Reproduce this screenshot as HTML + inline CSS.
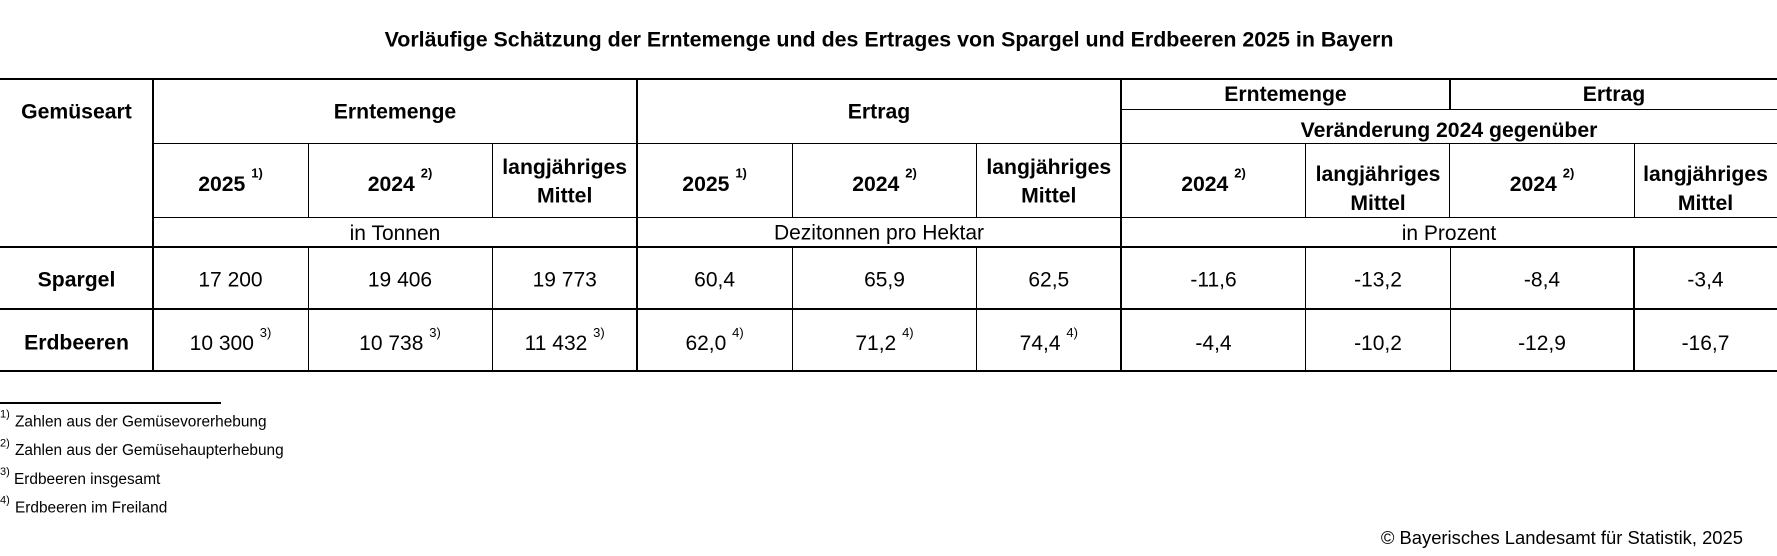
<!DOCTYPE html>
<html>
<head>
<meta charset="utf-8">
<style>
html,body{margin:0;padding:0;background:#fff;width:1777px;height:556px;overflow:hidden}
svg{display:block}
text{font-family:"Liberation Sans",Arial,sans-serif;fill:#000}
.t{font-size:21.4px;font-weight:bold}
.h{font-size:21.2px;font-weight:bold;text-anchor:middle}
.d{font-size:21px;text-anchor:middle}
.s{font-size:13px}
.fn{font-size:15.4px}
.fs{font-size:11px}
</style>
</head>
<body>
<svg width="1777" height="556" viewBox="0 0 1777 556" xmlns="http://www.w3.org/2000/svg">
<rect x="0" y="0" width="1777" height="556" fill="#fff"/>
<text class="t" x="889" y="46.5" text-anchor="middle">Vorläufige Schätzung der Erntemenge und des Ertrages von Spargel und Erdbeeren 2025 in Bayern</text>

<g fill="#000" shape-rendering="crispEdges">
<rect x="0" y="78" width="1777" height="2"/>
<rect x="1121" y="109" width="656" height="1"/>
<rect x="153" y="143" width="1624" height="1"/>
<rect x="153" y="217" width="1624" height="1"/>
<rect x="0" y="246" width="1777" height="2"/>
<rect x="0" y="308" width="1777" height="2"/>
<rect x="0" y="370" width="1777" height="2"/>
<rect x="152" y="78" width="2" height="294"/>
<rect x="636" y="78" width="2" height="294"/>
<rect x="1120" y="78" width="2" height="294"/>
<rect x="308" y="143" width="1" height="75"/>
<rect x="308" y="246" width="1" height="126"/>
<rect x="492" y="143" width="1" height="75"/>
<rect x="492" y="246" width="1" height="126"/>
<rect x="792" y="143" width="1" height="75"/>
<rect x="792" y="246" width="1" height="126"/>
<rect x="976" y="143" width="1" height="75"/>
<rect x="976" y="246" width="1" height="126"/>
<rect x="1305" y="143" width="1" height="75"/>
<rect x="1305" y="246" width="1" height="126"/>
<rect x="1449" y="78" width="2" height="32"/>
<rect x="1449" y="143" width="1" height="75"/>
<rect x="1450" y="246" width="1" height="126"/>
<rect x="1634" y="143" width="1" height="75"/>
<rect x="1633" y="246" width="2" height="126"/>
<rect x="0" y="402" width="221" height="2"/>
</g>

<text class="h" x="76.5" y="118.5">Gemüseart</text>
<text class="h" x="395" y="118.5">Erntemenge</text>
<text class="h" x="879" y="118.5">Ertrag</text>
<text class="h" x="1285.5" y="101">Erntemenge</text>
<text class="h" x="1614" y="101">Ertrag</text>
<text class="h" x="1449" y="137">Veränderung 2024 gegenüber</text>

<text class="h" x="230.5" y="191">2025 <tspan class="s" dy="-13.5">1)</tspan></text>
<text class="h" x="400" y="191">2024 <tspan class="s" dy="-13.5">2)</tspan></text>
<text class="h" x="564.7" y="174">langjähriges</text>
<text class="h" x="564.7" y="202.5">Mittel</text>
<text class="h" x="714.6" y="191">2025 <tspan class="s" dy="-13.5">1)</tspan></text>
<text class="h" x="884.5" y="191">2024 <tspan class="s" dy="-13.5">2)</tspan></text>
<text class="h" x="1048.8" y="174">langjähriges</text>
<text class="h" x="1048.8" y="202.5">Mittel</text>
<text class="h" x="1213.5" y="191">2024 <tspan class="s" dy="-13.5">2)</tspan></text>
<text class="h" x="1378" y="181">langjähriges</text>
<text class="h" x="1378" y="210">Mittel</text>
<text class="h" x="1542" y="191">2024 <tspan class="s" dy="-13.5">2)</tspan></text>
<text class="h" x="1705.5" y="181">langjähriges</text>
<text class="h" x="1705.5" y="210">Mittel</text>

<text class="d" x="395" y="240">in Tonnen</text>
<text class="d" x="879" y="239.5">Dezitonnen pro Hektar</text>
<text class="d" x="1449" y="240">in Prozent</text>

<text class="h" x="76.5" y="286.5">Spargel</text>
<text class="d" x="230.5" y="286.5">17 200</text>
<text class="d" x="400" y="286.5">19 406</text>
<text class="d" x="564.7" y="286.5">19 773</text>
<text class="d" x="714.6" y="286.5">60,4</text>
<text class="d" x="884.5" y="286.5">65,9</text>
<text class="d" x="1048.8" y="286.5">62,5</text>
<text class="d" x="1213.5" y="286.5">-11,6</text>
<text class="d" x="1378" y="286.5">-13,2</text>
<text class="d" x="1542" y="286.5">-8,4</text>
<text class="d" x="1705.5" y="286.5">-3,4</text>

<text class="h" x="76.5" y="349.5">Erdbeeren</text>
<text class="d" x="230.5" y="350">10 300 <tspan class="s" dy="-13">3)</tspan></text>
<text class="d" x="400" y="350">10 738 <tspan class="s" dy="-13">3)</tspan></text>
<text class="d" x="564.7" y="350">11 432 <tspan class="s" dy="-13">3)</tspan></text>
<text class="d" x="714.6" y="350">62,0 <tspan class="s" dy="-13">4)</tspan></text>
<text class="d" x="884.5" y="350">71,2 <tspan class="s" dy="-13">4)</tspan></text>
<text class="d" x="1048.8" y="350">74,4 <tspan class="s" dy="-13">4)</tspan></text>
<text class="d" x="1213.5" y="350">-4,4</text>
<text class="d" x="1378" y="350">-10,2</text>
<text class="d" x="1542" y="350">-12,9</text>
<text class="d" x="1705.5" y="350">-16,7</text>

<text class="fs" x="0" y="417.7">1)</text>
<text class="fn" x="15" y="426.7">Zahlen aus der Gemüsevorerhebung</text>
<text class="fs" x="0" y="446.4">2)</text>
<text class="fn" x="15" y="455">Zahlen aus der Gemüsehaupterhebung</text>
<text class="fs" x="0" y="475">3)</text>
<text class="fn" x="14" y="484">Erdbeeren insgesamt</text>
<text class="fs" x="0" y="503.7">4)</text>
<text class="fn" x="15" y="512.7">Erdbeeren im Freiland</text>

<text x="1743" y="544" font-size="18.4" text-anchor="end">© Bayerisches Landesamt für Statistik, 2025</text>
</svg>
</body>
</html>
